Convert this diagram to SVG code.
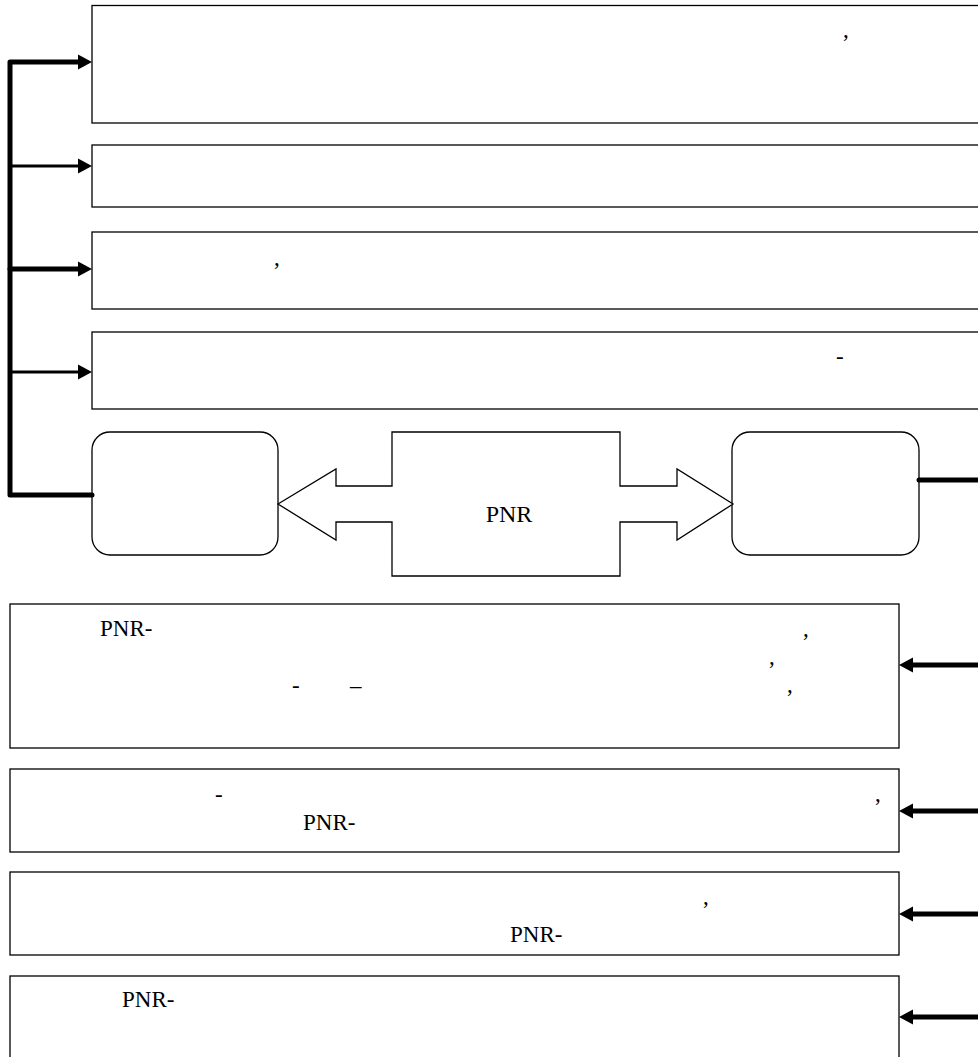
<svg xmlns="http://www.w3.org/2000/svg" width="978" height="1057" viewBox="0 0 978 1057">
<style>
.box{fill:#fff;stroke:#000;stroke-width:1.3}
text{font-family:'Liberation Serif','DejaVu Serif',serif;fill:#000}
.t{font-size:23px}
.c{font-size:24px;text-anchor:middle}
.thick{stroke:#000;stroke-width:5;fill:none;stroke-linejoin:round;stroke-linecap:round}
.thin{stroke:#000;stroke-width:3.2;fill:none}
.head{fill:#000;stroke:none}
</style>
<rect width="978" height="1057" fill="#fff"/>
<g font-family="Liberation Serif, serif">
<g id="node-top1"><rect class="box" x="92" y="5.5" width="900" height="117.5"/><text class="t" x="843" y="37">,</text></g>
<g id="node-top2"><rect class="box" x="92" y="145" width="900" height="62"/></g>
<g id="node-top3"><rect class="box" x="92" y="232" width="900" height="77"/><text class="t" x="274" y="265">,</text></g>
<g id="node-top4"><rect class="box" x="92" y="332" width="900" height="77"/><text class="t" x="836" y="364">-</text></g>
<g id="node-left"><rect class="box" x="92" y="432" width="186" height="123" rx="18" ry="18"/></g>
<g id="node-right"><rect class="box" x="732" y="432" width="187" height="123" rx="18" ry="18"/></g>
<g id="node-pnr"><polygon class="box" points="278,504 336,469 336,486 392,486 392,432 620,432 620,486 677,486 677,469 733,504 677,540 677,522 620,522 620,576 392,576 392,522 336,522 336,540"/><text class="c" x="509" y="522">PNR</text></g>
<g id="node-a"><rect class="box" x="10" y="604" width="889" height="144"/>
<text class="t" x="100" y="636">PNR-</text>
<text class="t" x="292" y="693">-</text>
<text class="t" x="350" y="693">–</text>
<text class="t" x="803" y="636">,</text>
<text class="t" x="769" y="664">,</text>
<text class="t" x="787" y="692">,</text></g>
<g id="node-b"><rect class="box" x="10" y="769" width="889" height="83"/>
<text class="t" x="215" y="802">-</text>
<text class="t" x="875" y="801">,</text>
<text class="t" x="303" y="830">PNR-</text></g>
<g id="node-c"><rect class="box" x="10" y="872" width="889" height="83"/>
<text class="t" x="703" y="904">,</text>
<text class="t" x="510" y="942">PNR-</text></g>
<g id="node-d"><rect class="box" x="10" y="976" width="889" height="100"/>
<text class="t" x="122" y="1007">PNR-</text></g>
</g>
<g id="connectors">
<polyline class="thick" points="80,62 10,62 10,495 92,495"/>
<line class="thin" x1="10" y1="166" x2="80" y2="166"/>
<line class="thick" x1="10" y1="269" x2="80" y2="269"/>
<line class="thin" x1="10" y1="372" x2="80" y2="372"/>
<polygon class="head" points="92,62 78,54.5 78,69.5"/>
<polygon class="head" points="92,166 78,158.5 78,173.5"/>
<polygon class="head" points="92,269 78,261.5 78,276.5"/>
<polygon class="head" points="92,372 78,364.5 78,379.5"/>
<line class="thick" x1="919" y1="480" x2="985" y2="480"/>
<line class="thick" x1="911" y1="665" x2="985" y2="665"/>
<line class="thick" x1="911" y1="811" x2="985" y2="811"/>
<line class="thick" x1="911" y1="914" x2="985" y2="914"/>
<line class="thick" x1="911" y1="1017" x2="985" y2="1017"/>
<polygon class="head" points="899,665 913,657.5 913,672.5"/>
<polygon class="head" points="899,811 913,803.5 913,818.5"/>
<polygon class="head" points="899,914 913,906.5 913,921.5"/>
<polygon class="head" points="899,1017 913,1009.5 913,1024.5"/>
</g>
</svg>
